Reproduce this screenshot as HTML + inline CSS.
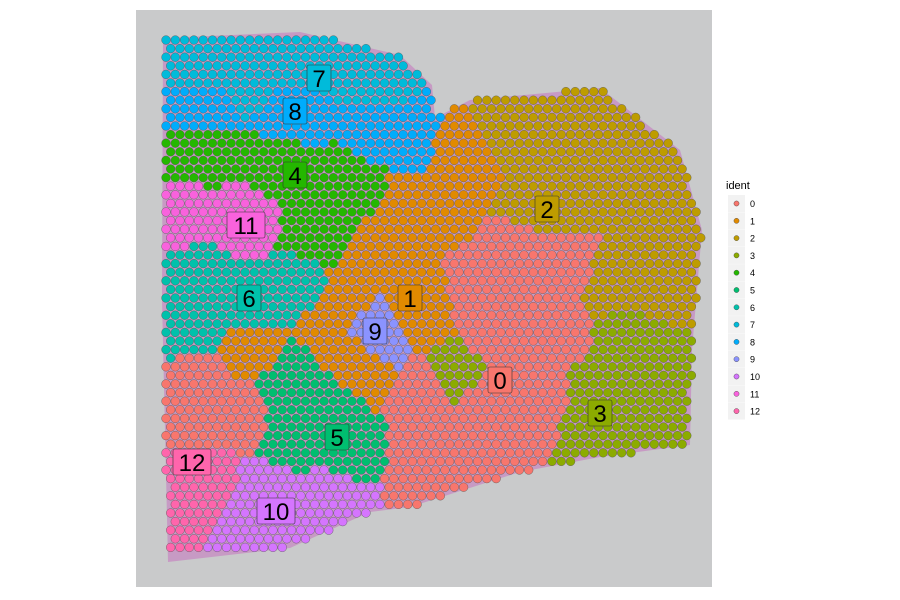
<!DOCTYPE html>
<html><head><meta charset="utf-8"><style>
body{margin:0;background:#fff;font-family:"Liberation Sans",sans-serif}
svg{display:block}
</style></head><body>
<svg id="chart" width="900" height="600">
<rect x="136" y="10" width="576" height="577" fill="#c9cacb"/>
<g id="spots"></g>
<g id="labels"></g>
<g id="legend"></g>
</svg>
<script>
const clusters=["0","1","2","3","4","5","6","7","8","9","10","11","12"];
const colors=["#F8766D","#E18A00","#BE9C00","#8CAB00","#24B700","#00BE70","#00C1AB","#00BBDA","#00ACFC","#8B93FF","#D575FE","#F962DD","#FF65AC"];
const seedX=[200,300,380,250, 200,290,380,420, 200,280,350,320, 240,190, 200,250,300,190, 380,420,450,420,330,250,355,345, 510,560,600,660,650,620,690, 480,560,480,450,540,200,190,420,530,540,500,230,430, 460,610,660,580,640, 320,300,350,290, 280,300,340, 190, 375];
const seedY=[65,60,75,80, 110,115,130,140, 150,165,185,230, 220,220, 270,300,290,330, 250,200,150,310,320,350,360,300, 120,200,130,190,300,280,250, 300,260,400,460,420,380,430,470,270,330,340,410,400, 380,400,360,430,330, 400,440,460,380, 500,525,490, 462, 332];
const seedC=[7,7,7,7, 8,8,8,8, 4,4,4,4, 11,11, 6,6,6,6, 1,1,1,1,1,1,1,1, 2,2,2,2,2,2,2, 0,0,0,0,0,0,0,0,0,0,0,0,0, 3,3,3,3,3, 5,5,5,5, 10,10,10, 12, 9];
const labelX=[500,410,547,600,295,337,249,319,295,375,276,246,192];
const labelY=[380,298,209,413,175,437,298,78,111,331,511,225,462];
const outline=[[163,38],[300,32],[400,55],[432,85],[435,118],[470,100],[600,88],[680,150],[702,230],[692,350],[690,445],[600,457],[520,472],[410,507],[370,512],[290,548],[168,562],[162,300]];
const ns="http://www.w3.org/2000/svg";
function inPoly(x,y){let c=false;for(let i=0,j=outline.length-1;i<outline.length;j=i++){const[xi,yi]=outline[i],[xj,yj]=outline[j];if((yi>y)!=(yj>y)&&x<(xj-xi)*(y-yi)/(yj-yi)+xi)c=!c;}return c;}
const sp=document.getElementById('spots');
const tissue=document.createElementNS(ns,'polygon');
tissue.setAttribute('points',outline.map(p=>p.join(',')).join(' '));
tissue.setAttribute('fill','#c79ac4');


sp.appendChild(tissue);
for(let r=0;r<60;r++){const y=40+r*8.6;for(let k=0;k<62;k++){const x=166+k*9.3+(r%2?4.65:0);if(!inPoly(x,y))continue;
let best=0,bd=1e9;for(let s=0;s<seedX.length;s++){const d=(seedX[s]-x)**2+(seedY[s]-y)**2;if(d<bd){bd=d;best=s;}}
const c=document.createElementNS(ns,'circle');c.setAttribute('cx',x);c.setAttribute('cy',y);c.setAttribute('r',4.4);
c.setAttribute('fill',colors[seedC[best]]);c.setAttribute('stroke','#555');c.setAttribute('stroke-width','0.4');


sp.appendChild(c);}}
const lg=document.getElementById('labels');
clusters.forEach((t,i)=>{const w=t.length>1?38:24;
const g=document.createElementNS(ns,'g');


g.innerHTML=`<rect x="${labelX[i]-w/2}" y="${labelY[i]-13}" width="${w}" height="26" rx="2" fill="${colors[i]}" stroke="#333" stroke-width="0.6"/><text x="${labelX[i]}" y="${labelY[i]+9}" font-size="24" text-anchor="middle" fill="#000">${t}</text>`;
lg.appendChild(g);});
const L=document.getElementById('legend');
const tt=document.createElementNS(ns,'text');tt.setAttribute('x',726);tt.setAttribute('y',189);tt.setAttribute('font-size',11);tt.textContent='ident';


L.appendChild(tt);
clusters.forEach((t,i)=>{const y=203+i*17.3;const g=document.createElementNS(ns,'g');


g.innerHTML=`<rect x="728" y="${y-8}" width="17" height="17" fill="#f2f2f2"/><circle cx="736.5" cy="${y+0.5}" r="2.6" fill="${colors[i]}" stroke="#444" stroke-width="0.4"/><text x="750" y="${y+4}" font-size="9">${t}</text>`;
L.appendChild(g);});
</script>
</body></html>
